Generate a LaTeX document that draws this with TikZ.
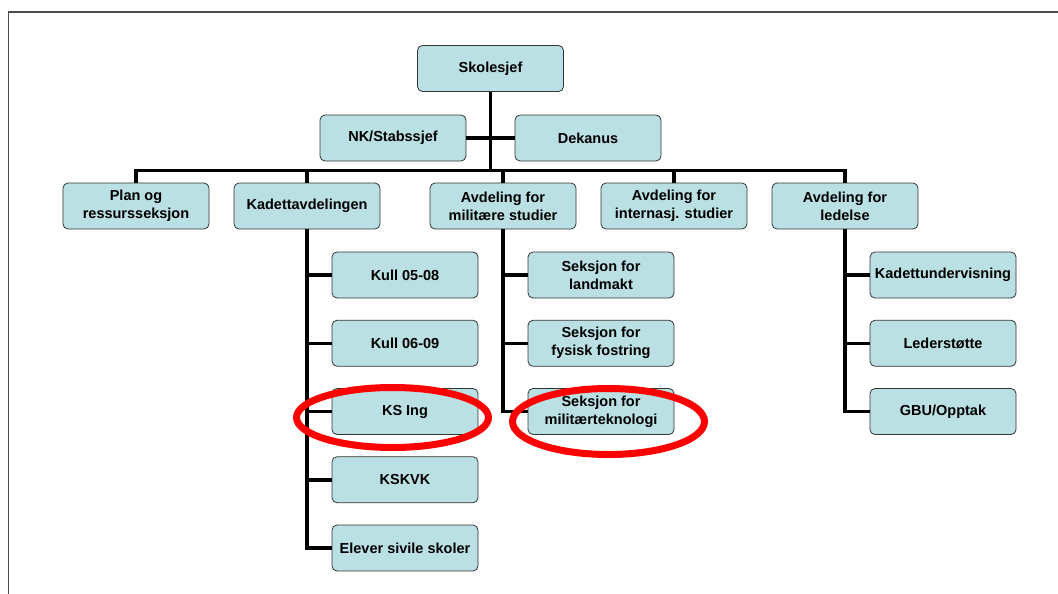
\documentclass[tikz,border=0pt]{standalone}
\usepackage{fontspec}
\setmainfont{Liberation Sans}
\usepackage{tikz}
\usetikzlibrary{positioning}
\definecolor{boxfill}{RGB}{186,224,227}

\begin{document}
\begin{tikzpicture}[x=1pt,y=1pt]
          \tikzstyle{unit}=[rectangle,rounded corners=5pt,draw=black!80,line width=0.8pt,fill=boxfill,
            minimum width=146pt,minimum height=46pt,align=center,inner sep=2pt,
            font=\fontsize{14.5}{18}\selectfont\bfseries]
          \tikzstyle{link}=[line width=3.5pt,line join=miter]
          \tikzstyle{ring}=[red,line width=7pt]

          \useasboundingbox (0,0) rectangle (1058,-594);
          % frame
          \draw[black!70,line width=1.5pt] (8.5,-594) -- (8.5,-12) -- (1058,-12);

          \begin{scope}
            \node[unit](skole) at (490.5,-68.5){Skolesjef};
            \node[unit,below of=skole,node distance=69.5pt,xshift=-97.5pt](nk){NK/Stabssjef};
            \node[unit,right of=nk,node distance=195pt](dekanus){Dekanus};

            \node[unit,below of=skole,node distance=137.5pt,xshift=12.5pt](mil){Avdeling for\\militære studier};
            \node[unit,left of=mil,node distance=196pt](kadett){Kadettavdelingen};
            \node[unit,left of=kadett,node distance=171pt](plan){Plan og\\ressursseksjon};
            \node[unit,right of=mil,node distance=171pt](intl){Avdeling for\\internasj. studier};
            \node[unit,right of=intl,node distance=171pt](ledelse){Avdeling for\\ledelse};

            % Kadettavdelingen
            \node[unit,below of=kadett,node distance=69pt,xshift=98pt](kull05){Kull 05-08};
            \node[unit,below of=kull05,node distance=68.25pt](kull06){Kull 06-09};
            \node[unit,below of=kull06,node distance=68.25pt](ksing){KS Ing};
            \node[unit,below of=ksing,node distance=68.25pt](kskvk){KSKVK};
            \node[unit,below of=kskvk,node distance=68.25pt](elever){Elever sivile skoler};

            % militære studier
            \node[unit,below of=mil,node distance=69pt,xshift=98pt](landmakt){Seksjon for\\landmakt};
            \node[unit,below of=landmakt,node distance=68.25pt](fostring){Seksjon for\\fysisk fostring};
            \node[unit,below of=fostring,node distance=68.25pt](teknologi){Seksjon for\\militærteknologi};

            % ledelse
            \node[unit,below of=ledelse,node distance=69pt,xshift=98pt](undervisning){Kadettundervisning};
            \node[unit,below of=undervisning,node distance=68.25pt](stotte){Lederstøtte};
            \node[unit,below of=stotte,node distance=68.25pt](opptak){GBU/Opptak};

            \coordinate[above=12pt of plan.north](bar);

            \draw[link] (plan.north) -- (bar) -| (ledelse.north);
            \draw[link] (skole.south) -- (skole.south |- bar);
            \draw[link] (nk.east) -- (dekanus.west);
            \foreach \n in {kadett,mil,intl}
              \draw[link] (\n.north) -- (\n.north |- bar);

            \draw[link] (kadett.south) |- (elever.west);
            \foreach \n in {kull05,kull06,ksing,kskvk}
              \draw[link] (kadett.south |- \n.west) -- (\n.west);
            \draw[link] (mil.south) |- (teknologi.west);
            \foreach \n in {landmakt,fostring}
              \draw[link] (mil.south |- \n.west) -- (\n.west);
            \draw[link] (ledelse.south) |- (opptak.west);
            \foreach \n in {undervisning,stotte}
              \draw[link] (ledelse.south |- \n.west) -- (\n.west);

            % highlights
            \draw[ring] ([xshift=-12.5pt,yshift=-6pt]ksing.center) ellipse [x radius=96pt,y radius=30pt];
            \draw[ring] ([xshift=7.5pt,yshift=-10pt]teknologi.center) ellipse [x radius=96pt,y radius=33pt];
          \end{scope}
        \end{tikzpicture}
\end{document}
